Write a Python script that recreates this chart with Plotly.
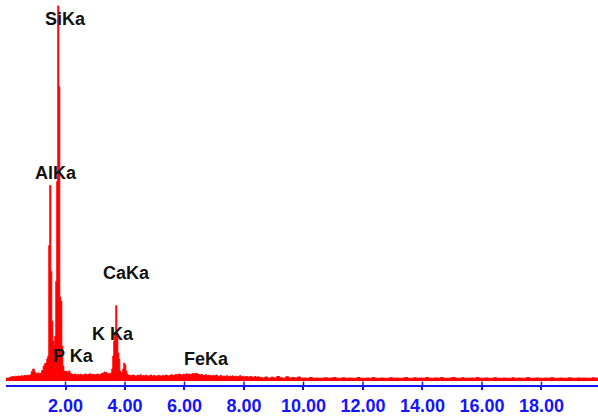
import plotly.graph_objects as go

# ---- EDS spectrum: counts per channel, grouped in segments ----
# low-energy background up to the Al/Si region (0.05 keV channels)
low_start, low_step = 0.00, 0.05
low_counts = [30, 25, 35, 40, 45, 38, 48, 42, 50, 45, 52, 47, 55, 50, 58, 52, 62,
              95, 120, 90, 72, 80, 70, 78, 105, 150, 175]

# Al Ka / Si Ka region (fine channels)
alsi_energy = [1.338, 1.371, 1.405, 1.439, 1.472, 1.506, 1.539, 1.573, 1.607, 1.640,
               1.674, 1.707, 1.741, 1.775, 1.808, 1.842, 1.876, 1.909, 1.943, 1.976]
alsi_counts = [180, 220, 250, 1360, 1960, 1100, 600, 400, 350, 450,
               1000, 2000, 3760, 2950, 840, 800, 350, 150, 100, 90]

# P Ka / K Ka region (0.05 keV channels)
mid_start, mid_step = 2.00, 0.05
mid_counts = [95, 85, 100, 75, 68, 62, 70, 58, 66, 60, 68, 56, 64, 70, 58, 66, 72, 62,
              68, 60, 65, 70, 62, 66, 75, 80, 90, 84, 74, 68, 78]

# Ca Ka / Ca Kb region (fine channels)
ca_energy = [3.556, 3.590, 3.624, 3.657, 3.691, 3.724, 3.758, 3.792, 3.825, 3.859,
             3.892, 3.926, 3.960, 3.993, 4.027, 4.061, 4.094]
ca_counts = [120, 250, 400, 480, 755, 480, 280, 220, 100, 80,
             90, 120, 180, 160, 100, 70, 60]

# 4.15 - 8.50 keV, including the Fe Ka hump (0.05 keV channels)
fe_start, fe_step = 4.15, 0.05
fe_counts = [55, 48, 60, 52, 45, 58, 50, 62, 47, 55,
             50, 58, 44, 53, 60, 48, 55, 51, 46, 57,
             52, 45, 56, 49, 60, 54, 47, 58, 62, 55,
             60, 66, 58, 70, 63, 57, 68, 61, 72, 65,
             70, 64, 74, 68, 78, 72, 66, 60, 65, 58,
             55, 62, 50, 58, 53, 47, 56, 50, 60, 45,
             48, 55, 42, 50, 46, 52, 40, 49, 44, 51,
             43, 48, 40, 46, 52, 41, 47, 38, 45, 42,
             38, 45, 40, 35, 44, 37, 42, 36]

# high-energy tail (0.1 keV channels)
tail_start, tail_step = 8.6, 0.1
tail_counts = [30, 40, 28, 38, 30, 45, 32, 28, 42, 30,
               35, 30, 40, 28, 30, 28, 35, 28, 30, 28,
               28, 33, 28, 30, 35, 28, 28, 32, 28, 30,
               28, 28, 35, 28, 28, 30, 28, 34, 28, 28,
               30, 28, 28, 33, 28, 30, 28, 28, 35, 28,
               28, 32, 28, 30, 28, 35, 28, 28, 31, 28,
               34, 28, 28, 30, 36, 28, 28, 32, 28, 28,
               30, 28, 34, 28, 28, 31, 28, 28, 33, 28,
               28, 30, 28, 28, 32, 28, 30, 28, 28, 34,
               28, 28, 31, 28, 28, 30, 28, 33, 28, 28,
               30, 28, 28, 32, 28, 28, 31, 28, 30, 28,
               28, 32, 28, 30]

# peak labels: (text, energy keV, label height in counts)
peak_labels = ["SiKa", "AlKa", "CaKa", "K Ka", "P Ka", "FeKa"]
peak_label_x = [2.01, 1.68, 4.04, 3.58, 2.26, 6.75]
peak_label_y = [3633, 2090, 1080, 470, 250, 225]

# energy axis ticks
tick_vals = [2, 4, 6, 8, 10, 12, 14, 16, 18]
tick_text = ["2.00", "4.00", "6.00", "8.00", "10.00", "12.00", "14.00", "16.00", "18.00"]


def channel_grid(start, step, n):
    return [round(start + i * step, 3) for i in range(n)]


energy = (channel_grid(low_start, low_step, len(low_counts)) + alsi_energy
          + channel_grid(mid_start, mid_step, len(mid_counts)) + ca_energy
          + channel_grid(fe_start, fe_step, len(fe_counts))
          + channel_grid(tail_start, tail_step, len(tail_counts)))
counts = low_counts + alsi_counts + mid_counts + ca_counts + fe_counts + tail_counts

RED = "#ff0000"
BLUE = "#1414ff"

fig = go.Figure()
fig.add_trace(go.Scatter(
    x=energy, y=counts, mode="lines", line=dict(color=RED, width=1, shape="hv"),
    fill="tozeroy", fillcolor=RED, hoverinfo="skip", showlegend=False,
))

for txt, ex, ey in zip(peak_labels, peak_label_x, peak_label_y):
    fig.add_annotation(x=ex, y=ey, text=txt, showarrow=False,
                       font=dict(family="Liberation Sans", size=18, color="#111111", weight="bold"),
                       xanchor="center", yanchor="middle")

# short tick marks above the axis line (plotly draws the lower half)
for tv in tick_vals:
    fig.add_shape(type="line", xref="x", yref="paper", x0=tv, x1=tv, y0=0, y1=0.009,
                  line=dict(color=BLUE, width=1.5))

fig.update_layout(
    width=598, height=416,
    margin=dict(l=6, r=0, t=0, b=31),
    paper_bgcolor="white", plot_bgcolor="white",
    xaxis=dict(range=[0, 19.9], showgrid=False, zeroline=False,
               showline=True, linecolor=BLUE, linewidth=2,
               ticks="outside", ticklen=3, tickwidth=1.5, tickcolor=BLUE,
               tickvals=tick_vals, ticktext=tick_text,
               tickfont=dict(family="Liberation Sans", size=18, color=BLUE, weight="bold")),
    yaxis=dict(range=[-40, 3820], visible=False, showgrid=False, zeroline=False),
)

fig.write_html("out.html")
